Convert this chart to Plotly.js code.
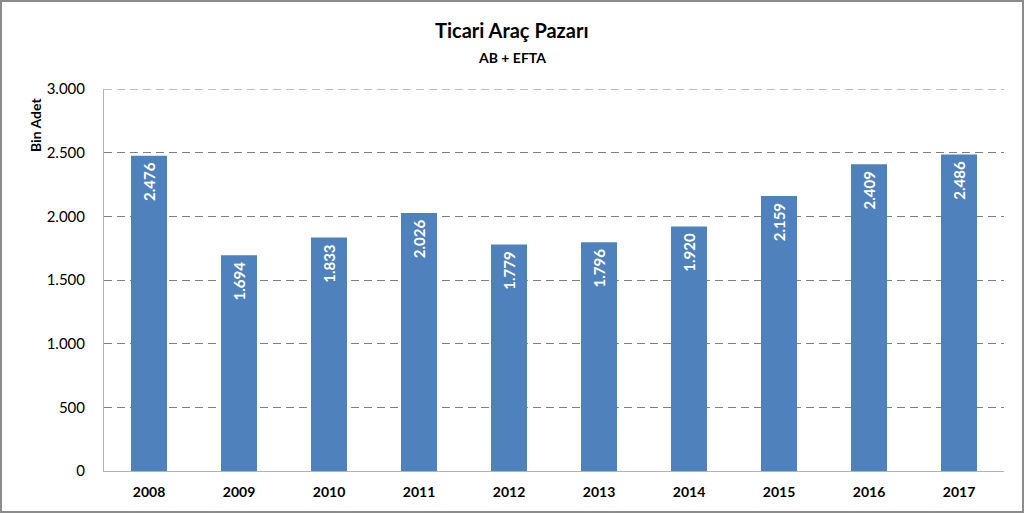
<!DOCTYPE html>
<html><head><meta charset="utf-8">
<script src="https://cdn.plot.ly/plotly-3.0.1.min.js"></script>
<style>html,body{margin:0;padding:0;background:#fff}#c{width:1024px;height:513px;box-sizing:border-box;border:2px solid #8c8c8c}</style>
</head><body><div id="c"></div>
<script>
const years = ['2008','2009','2010','2011','2012','2013','2014','2015','2016','2017'];
const values = [2476,1694,1833,2026,1779,1796,1920,2159,2409,2486];
const labels = ['2.476','1.694','1.833','2.026','1.779','1.796','1.920','2.159','2.409','2.486'];
const yTickVals = [0,500,1000,1500,2000,2500,3000];
const yTickText = ['0','500','1.000','1.500','2.000','2.500','3.000'];
const titleText = 'Ticari Araç Pazarı';
const subtitleText = 'AB + EFTA';
const yTitle = 'Bin Adet';

const font = 'Lato, "Open Sans", sans-serif';
const L = 102, W = 900;
const cx = (510 - L) / W;
Plotly.newPlot('c', [{
  type:'bar', x:years, y:values, text:labels,
  texttemplate:'<b>%{text}</b>\u00a0', textposition:'inside', insidetextanchor:'end',
  textangle:-90, textfont:{family:font,size:15,color:'#ffffff'},
  marker:{color:'#4f81bd', line:{width:0}}, width:0.4, hoverinfo:'none'
}], {
  width:1020, height:509,
  margin:{l:L, r:18, t:87, b:40},
  paper_bgcolor:'#fff', plot_bgcolor:'#fff',
  showlegend:false,
  shapes:[{type:'line', xref:'paper', yref:'y', x0:0, x1:1, y0:3000, y1:3000, line:{color:'#7f7f7f', width:1, dash:'8px,5px'}, layer:'below'}],
  annotations:[
    {text:'<b>'+titleText+'</b>', xref:'paper', yref:'paper', x:cx, xanchor:'center', y:1, yanchor:'middle', yshift:59, showarrow:false, font:{family:font,size:20,color:'#000'}},
    {text:'<b>'+subtitleText+'</b>', xref:'paper', yref:'paper', x:cx, xanchor:'center', y:1, yanchor:'middle', yshift:32, showarrow:false, font:{family:font,size:14,color:'#000'}},
    {text:'<b>'+yTitle+'</b>', xref:'paper', yref:'paper', x:0, xanchor:'center', xshift:-69, y:1, yanchor:'middle', yshift:-36, textangle:-90, showarrow:false, font:{family:font,size:14,color:'#000'}}
  ],
  xaxis:{type:'category', showline:true, linecolor:'#b3b3b3', linewidth:1, ticks:'', tickfont:{family:font,size:14,color:'#000'}, ticklabelstandoff:8, tickprefix:'<b>', ticksuffix:'</b>', fixedrange:true},
  yaxis:{range:[0,3000], tickvals:yTickVals, ticktext:yTickText, showline:true, linecolor:'#b3b3b3', linewidth:1,
    showgrid:true, gridcolor:'#7f7f7f', griddash:'8px,5px', gridwidth:1, zeroline:false, ticks:'',
    tickfont:{family:font,size:15,color:'#000'}, ticklabelstandoff:15}
}, {displayModeBar:false, staticPlot:true});
</script></body></html>
